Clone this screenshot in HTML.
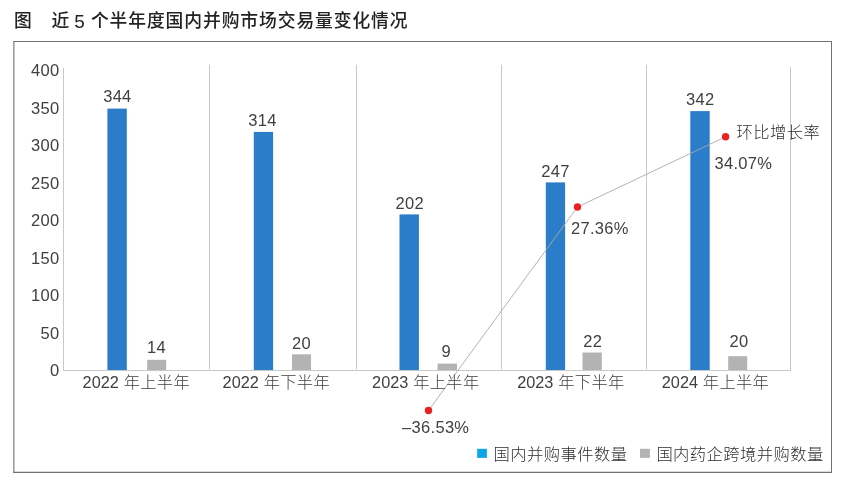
<!DOCTYPE html>
<html lang="zh-CN">
<head>
<meta charset="utf-8">
<title>近 5 个半年度国内并购市场交易量变化情况</title>
<style>
html,body{margin:0;padding:0;background:#fff;}
body{width:843px;height:486px;overflow:hidden;position:relative;}
svg{position:absolute;left:0;top:0;display:block;}
text{font-family:"Liberation Sans","Noto Sans CJK SC",sans-serif;fill:#404040;}
.title{font-size:17.8px;letter-spacing:0.9px;fill:#222;font-weight:500;}
.num{font-size:16.5px;letter-spacing:0.3px;}
.lab{font-size:16.3px;letter-spacing:0.45px;font-weight:300;fill:#2e2e2e;}
.xl{letter-spacing:0.3px;}
</style>
</head>
<body>
<svg width="843" height="486" viewBox="0 0 843 486">
<rect x="0" y="0" width="843" height="486" fill="#ffffff"/>
<!-- title -->
<text class="title" x="14.0" y="27.1">图</text>
<text class="title" x="51.4" y="27.1">近</text>
<text class="title" x="74.3" y="27.6" style="font-size:19px">5</text>
<text class="title" x="90.9" y="27.1">个半年度国内并购市场交易量变化情况</text>
<!-- frame -->
<g stroke="#727272" fill="none">
<line x1="13.3" y1="41.5" x2="832" y2="41.5" stroke-width="1"/>
<line x1="831.5" y1="41" x2="831.5" y2="472.9" stroke-width="1"/>
<line x1="13.3" y1="472.3" x2="832" y2="472.3" stroke-width="1.2"/>
<line x1="13.85" y1="41" x2="13.85" y2="472.9" stroke-width="1.1"/>
</g>
<!-- dividers -->
<g stroke="#c9c9c9" stroke-width="1" fill="none">
<line x1="63.5" y1="68" x2="63.5" y2="371"/>
<line x1="209.5" y1="64.7" x2="209.5" y2="369.4"/>
<line x1="356.5" y1="64.7" x2="356.5" y2="369.4"/>
<line x1="501.5" y1="64.7" x2="501.5" y2="369.4"/>
<line x1="646.5" y1="65" x2="646.5" y2="369.4"/>
<line x1="790.5" y1="67" x2="790.5" y2="371"/>
<line x1="63" y1="370.5" x2="791" y2="370.5"/>
</g>
<!-- blue bars -->
<g fill="#2b7cc9">
<rect x="107.4" y="108.6" width="19.4" height="261.4"/>
<rect x="253.8" y="131.9" width="19.3" height="238.1"/>
<rect x="399.5" y="214.4" width="19.4" height="155.6"/>
<rect x="545.8" y="182.4" width="19.3" height="187.6"/>
<rect x="690.3" y="111.1" width="19.4" height="258.9"/>
</g>
<!-- gray bars -->
<g fill="#b4b3b3">
<rect x="147.2" y="359.8" width="19" height="10.2"/>
<rect x="292" y="354.3" width="19" height="15.7"/>
<rect x="437.6" y="363.6" width="19.4" height="6.4"/>
<rect x="582.5" y="352.5" width="19.3" height="17.5"/>
<rect x="728.2" y="356.2" width="19" height="13.8"/>
</g>
<!-- growth line -->
<polyline points="428.5,410.5 577.5,207 725.6,136.8" fill="none" stroke="#aaaaaa" stroke-width="0.9"/>
<g fill="#ea2123">
<circle cx="428.5" cy="410.5" r="3.7"/>
<circle cx="577.5" cy="207" r="3.7"/>
<circle cx="725.6" cy="136.8" r="3.7"/>
</g>
<!-- y axis labels -->
<g class="num" text-anchor="end">
<text x="59.4" y="76.4">400</text>
<text x="59.4" y="113.9">350</text>
<text x="59.4" y="151.3">300</text>
<text x="59.4" y="188.8">250</text>
<text x="59.4" y="226.2">200</text>
<text x="59.4" y="263.7">150</text>
<text x="59.4" y="301.1">100</text>
<text x="59.4" y="338.6">50</text>
<text x="59.4" y="376">0</text>
</g>
<!-- bar value labels -->
<g class="num" text-anchor="middle">
<text x="117.4" y="102.2">344</text>
<text x="262.5" y="125.6">314</text>
<text x="409.8" y="209.1">202</text>
<text x="555.5" y="176.7">247</text>
<text x="700.3" y="105">342</text>
<text x="156.5" y="352.9">14</text>
<text x="301.5" y="348.8">20</text>
<text x="446.2" y="357.4">9</text>
<text x="592.8" y="347.2">22</text>
<text x="739" y="347.2">20</text>
</g>
<!-- growth labels -->
<g class="num">
<text x="402.1" y="432.7">–36.53%</text>
<text x="571" y="234.4">27.36%</text>
<text x="714.5" y="169.3">34.07%</text>
</g>
<text class="lab" x="736.5" y="137.6">环比增长率</text>
<!-- x labels -->
<g class="lab xl" text-anchor="middle">
<text x="136.3" y="388.3"><tspan style="letter-spacing:0">2022</tspan> 年上半年</text>
<text x="276.3" y="388.3"><tspan style="letter-spacing:0">2022</tspan> 年下半年</text>
<text x="425.8" y="388.3"><tspan style="letter-spacing:0">2023</tspan> 年上半年</text>
<text x="570.9" y="388.3"><tspan style="letter-spacing:0">2023</tspan> 年下半年</text>
<text x="715.5" y="388.3"><tspan style="letter-spacing:0">2024</tspan> 年上半年</text>
</g>
<!-- legend -->
<rect x="477.2" y="448.8" width="9.7" height="9.1" fill="#0ba5e9"/>
<text class="lab" x="493.6" y="460.4">国内并购事件数量</text>
<rect x="640" y="448.8" width="9.9" height="9.1" fill="#b4b3b3"/>
<text class="lab" x="656.4" y="460.4">国内药企跨境并购数量</text>
</svg>
</body>
</html>
